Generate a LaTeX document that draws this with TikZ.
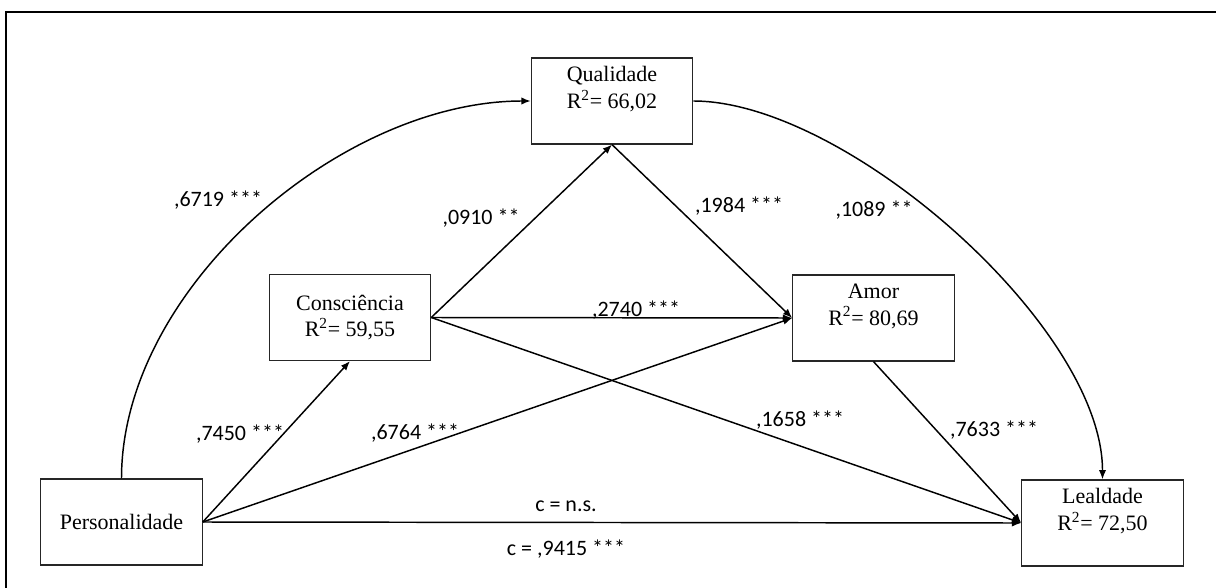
\documentclass[tikz,border=0pt]{standalone}
\usepackage{fontspec}
\setmainfont{Liberation Serif}
\newfontfamily\lblfont{Carlito}
\usetikzlibrary{arrows.meta}

\tikzset{
  varbox/.style={draw=black!85, line width=0.9pt, minimum width=121pt, minimum height=64.5pt,
    inner sep=0pt, align=center, font=\fontsize{16.5}{20}\selectfont},
  coef/.style={inner sep=0pt, font=\lblfont\fontsize{16.5}{18}\selectfont},
  path/.style={line width=1.1pt, -{Latex[length=7pt,width=5.5pt]}}
}

\begin{document}
\begin{tikzpicture}[x=0.75pt,y=0.75pt,yscale=-1,xscale=1]
  \useasboundingbox (0,0) rectangle (1216,588);
  % frame
  \draw [line width=1.6pt] (6,588) -- (6,12) -- (1216,12);

  % variables
  \node [varbox] (qual) at (612,101) {Qualidade\\R\textsuperscript{2}= 66,02\\ };
  \node [varbox] (consc) at (350,317.5) {Consci\^encia\\R\textsuperscript{2}= 59,55};
  \node [varbox] (amor) at (873.5,318) {Amor\\R\textsuperscript{2}= 80,69\\ };
  \node [varbox] (pers) at (121.5,522) {Personalidade};
  \node [varbox] (leal) at (1102.5,523) {Lealdade\\R\textsuperscript{2}= 72,50\\ };

  % paths
  \draw [path] (pers.north) to [out=-90,in=180,looseness=0.87] (qual.west);
  \draw [path] (qual.east) to [out=0,in=-90,looseness=0.7] (leal.north);
  \draw [path] (pers.east) -- (consc.south);
  \draw [path] (pers.east) -- (amor.west);
  \draw [path] (pers.east) -- (leal.west);
  \draw [path] (consc.east) -- (qual.south);
  \draw [path] (consc.east) -- (amor.west);
  \draw [path] (consc.east) -- (leal.west);
  \draw [path] (qual.south) -- (amor.west);
  \draw [path] (amor.south) -- (leal.west);

  % coefficients
  \node [coef] (c1) at (218,200) {,6719 ***};
  \node [coef] (c2) at (481,218) {,0910 **};
  \node [coef] (c3) at (739,206) {,1984 ***};
  \node [coef] (c4) at (874,210) {,1089 **};
  \node [coef] (c5) at (636,310) {,2740 ***};
  \node [coef] (c6) at (240,434) {,7450 ***};
  \node [coef] (c7) at (415,433) {,6764 ***};
  \node [coef] (c8) at (800,420) {,1658 ***};
  \node [coef] (c9) at (994,430) {,7633 ***};
  \node [coef] (cns) at (566,506) {c = n.s.};
  \node [coef] (ctot) at (566,549) {c = ,9415 ***};
\end{tikzpicture}
\end{document}
